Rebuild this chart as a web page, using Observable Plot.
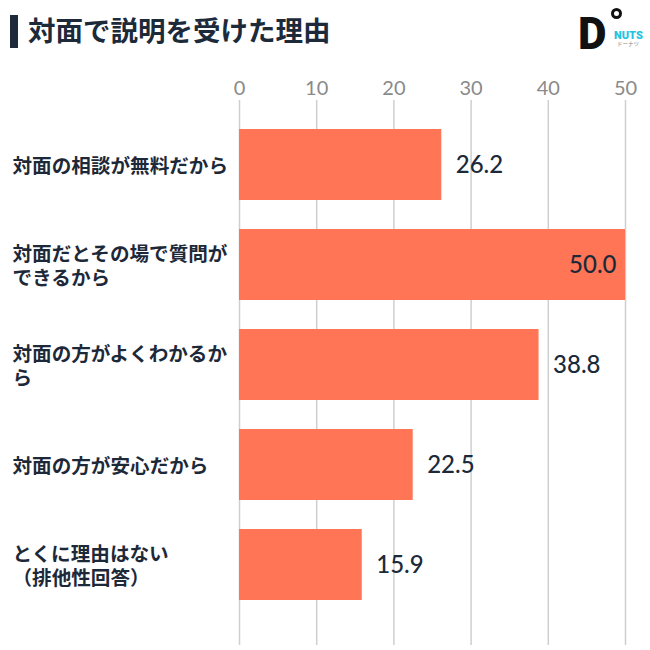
<!DOCTYPE html>
<html><head><meta charset="utf-8">
<script src="https://cdn.jsdelivr.net/npm/d3@7"></script>
<script src="https://cdn.jsdelivr.net/npm/@observablehq/plot@0.6"></script>
<style>
body{margin:0;background:#fff;font-family:"Noto Sans CJK JP","Noto Sans",sans-serif;}
#wrap{position:relative;width:650px;height:650px;overflow:hidden;background:#fff;}
#titlebar{position:absolute;left:10px;top:15px;width:8px;height:33px;background:#1c2a3a;}
#title{position:absolute;left:28px;top:9px;font-size:27.5px;font-weight:700;color:#1c2a3a;line-height:40px;}
#logo{position:absolute;left:576px;top:0px;width:74px;height:56px;}
#logoD{position:absolute;left:2px;top:12px;font-family:Roboto,sans-serif;font-weight:900;font-size:44px;line-height:44px;color:#111;}
#logoO{position:absolute;left:35px;top:8px;width:5px;height:5px;border:3px solid #111;border-radius:50%;}
#logoN{position:absolute;left:38px;top:29.5px;font-family:Roboto,sans-serif;font-weight:900;font-size:11px;line-height:11px;color:#20c4e0;}
#logoK{position:absolute;left:41px;top:40px;font-size:5.5px;line-height:8px;color:#888;}
#chart{position:absolute;left:0;top:60px;}
</style></head>
<body><div id="wrap">
<div id="titlebar"></div>
<div id="title">対面で説明を受けた理由</div>
<div id="logo"><div id="logoD">D</div><div id="logoO"></div><div id="logoN">NUTS</div><div id="logoK">ドーナツ</div></div>
<div id="chart"></div>
</div>
<script>
const categories = [
  "対面の相談が無料だから",
  "対面だとその場で質問が\nできるから",
  "対面の方がよくわかるか\nら",
  "対面の方が安心だから",
  "とくに理由はない\n（排他性回答）"
];
const values = [26.2, 50.0, 38.8, 22.5, 15.9];
const tickValues = [0, 10, 20, 30, 40, 50];

const data = categories.map((c, i) => ({cat: c, v: values[i]}));
const outside = data.filter(d => d.v < 45);
const inside = data.filter(d => d.v >= 45);

const chart = Plot.plot({
  width: 650,
  height: 590,
  marginLeft: 239,
  marginRight: 25,
  marginTop: 40,
  marginBottom: 5,
  style: {background: "transparent", overflow: "visible"},
  x: {domain: [0, 50], axis: null},
  y: {domain: categories, range: [46.8, 563.2], paddingInner: 0.287, paddingOuter: 0.2, axis: null},
  marks: [
    Plot.ruleX(tickValues, {stroke: "#cfcfcf", strokeWidth: 1.5}),
    Plot.text(tickValues, {x: d => d, text: d => String(d), frameAnchor: "top", dy: -20, fill: "#8a8a8a", fontSize: 20, fontFamily: "Lato, 'Noto Sans', sans-serif"}),
    Plot.barX(data, {x: "v", y: "cat", fill: "#ff7555"}),
    Plot.text(outside, {x: "v", y: "cat", text: d => d.v.toFixed(1), textAnchor: "start", dx: 14, fill: "#1b2a3a", fontSize: 24, fontWeight: 500, fontFamily: "Lato, 'Noto Sans', sans-serif"}),
    Plot.text(inside, {x: "v", y: "cat", text: d => d.v.toFixed(1), textAnchor: "end", dx: -9, fill: "#1b2a3a", fontSize: 24, fontWeight: 500, fontFamily: "Lato, 'Noto Sans', sans-serif"}),
    Plot.text(data, {y: "cat", text: "cat", frameAnchor: "left", dx: -227, textAnchor: "start", lineHeight: 1.25, fill: "#1d2939", fontSize: 19.6, fontWeight: 700, fontFamily: "'Noto Sans CJK JP', sans-serif"})
  ]
});
document.getElementById("chart").appendChild(chart);
</script>
</body></html>
